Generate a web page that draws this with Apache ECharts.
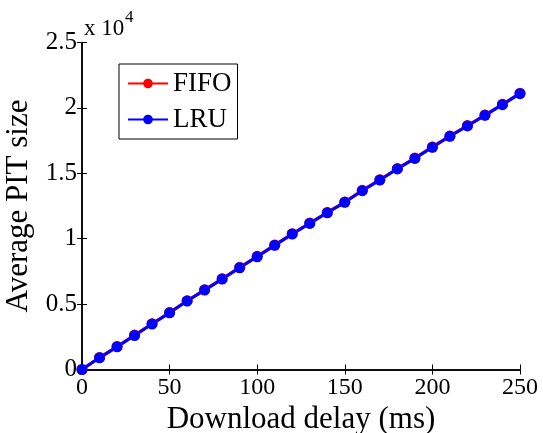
<!DOCTYPE html>
<html>
<head>
<meta charset="utf-8">
<script src="https://cdn.jsdelivr.net/npm/echarts@6/dist/echarts.min.js"></script>
<style>html,body{margin:0;padding:0;background:#fff}#c{width:543px;height:433px}</style>
</head>
<body>
<div id="c"></div>
<script>
var delays = [0,10,20,30,40,50,60,70,80,90,100,110,120,130,140,150,160,170,180,190,200,210,220,230,240,250];
var fifo = [0,920,1760,2630,3500,4360,5260,6100,6940,7810,8650,9520,10380,11200,12010,12810,13700,14510,15360,16170,17020,17860,18650,19460,20280,21120];
var lru  = [0,890,1730,2600,3470,4330,5230,6070,6910,7780,8620,9490,10350,11170,11980,12780,13670,14480,15330,16140,16990,17830,18620,19430,20250,21090];
var xTicks = [0,50,100,150,200,250];
var yTickLabels = ['0','0.5','1','1.5','2','2.5'];
var seriesNames = ['FIFO','LRU'];
var xName = 'Download delay (ms)';
var yName = 'Average PIT size';

var font = "'Liberation Serif','Times New Roman',serif";
function pairs(ys){ return delays.map(function(d,i){ return [d, ys[i]]; }); }

var chart = echarts.init(document.getElementById('c'));
var axisLine = {show:true, lineStyle:{color:'#000', width:1.5}};
var tick = {show:true, inside:true, length:5, lineStyle:{color:'#000', width:1}};
chart.setOption({
  animation:false,
  backgroundColor:'#fff',
  grid:{left:82, right:23, top:42.5, bottom:63.5, containLabel:false, outerBoundsMode:'none'},
  legend:{
    orient:'vertical', left:119, top:64,
    padding:[6,6,6,8], itemGap:9, itemWidth:40, itemHeight:12,
    borderColor:'#000', borderWidth:1, backgroundColor:'#fff',
    textStyle:{fontFamily:font, fontSize:27, color:'#000', lineHeight:27},
    data:seriesNames
  },
  xAxis:[{
    type:'value', min:0, max:250, interval:50,
    axisLine:axisLine, axisTick:tick, splitLine:{show:false},
    axisLabel:{fontFamily:font, fontSize:24, color:'#000', margin:6,
      formatter:function(v){ return xTicks.indexOf(v)>=0 ? String(v) : ''; }},
    name:xName, nameLocation:'middle', nameGap:32,
    nameTextStyle:{fontFamily:font, fontSize:31, color:'#000'}
  },{
    type:'value', position:'top', min:0, max:250, interval:50,
    axisLine:axisLine, axisTick:tick, axisLabel:{show:false}, splitLine:{show:false}
  }],
  yAxis:[{
    type:'value', min:0, max:25000, interval:5000,
    axisLine:axisLine, axisTick:tick, splitLine:{show:false},
    axisLabel:{fontFamily:font, fontSize:25, color:'#000', margin:5,
      formatter:function(v){ return yTickLabels[Math.round(v/5000)]; }},
    name:yName, nameLocation:'middle', nameGap:44,
    nameTextStyle:{fontFamily:font, fontSize:31, color:'#000'}
  },{
    type:'value', position:'right', min:0, max:25000, interval:5000,
    axisLine:axisLine, axisTick:tick, axisLabel:{show:false}, splitLine:{show:false}
  }],
  graphic:[{
    type:'text', left:84, top:17,
    style:{text:'x 10', font:"23px 'Liberation Serif','Times New Roman',serif", fill:'#000'}
  },{
    type:'text', left:125, top:9,
    style:{text:'4', font:"17px 'Liberation Serif','Times New Roman',serif", fill:'#000'}
  }],
  series:[{
    name:seriesNames[0], type:'line', xAxisIndex:0, yAxisIndex:0,
    data:pairs(fifo), symbol:'circle', symbolSize:11, showAllSymbol:true,
    itemStyle:{color:'#ff0000'}, lineStyle:{color:'#ff0000', width:3}
  },{
    name:seriesNames[1], type:'line', xAxisIndex:0, yAxisIndex:0,
    data:pairs(lru), symbol:'circle', symbolSize:11, showAllSymbol:true,
    itemStyle:{color:'#0000ff'}, lineStyle:{color:'#0000ff', width:3}
  }]
});
</script>
</body>
</html>
